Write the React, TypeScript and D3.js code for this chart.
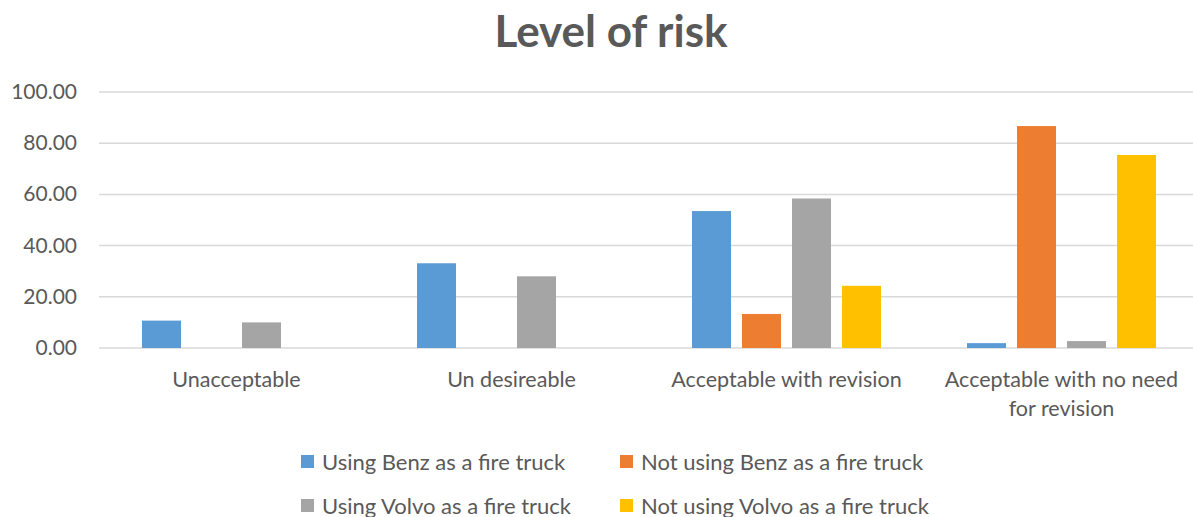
import React, { useEffect, useRef } from 'react'
import * as d3 from 'd3'

const categories = ['Unacceptable', 'Un desireable', 'Acceptable with revision', 'Acceptable with no need for revision']
const categoryLines = [['Unacceptable'], ['Un desireable'], ['Acceptable with revision'], ['Acceptable with no need', 'for revision']]
const seriesNames = ['Using Benz as a fire truck', 'Not using Benz as a fire truck', 'Using Volvo as a fire truck', 'Not using Volvo as a fire truck']
const seriesColors = ['#5b9bd5', '#ed7d31', '#a5a5a5', '#ffc000']
const benzUse = [10.7, 33.1, 53.5, 1.9]
const benzNot = [0, 0, 13.3, 86.7]
const volvoUse = [10.0, 28.0, 58.4, 2.7]
const volvoNot = [0, 0, 24.3, 75.4]
const yTicks = [0, 20, 40, 60, 80, 100]

const values = [benzUse, benzNot, volvoUse, volvoNot]
const font = 'Lato, "Open Sans", sans-serif'

export default function App() {
  const ref = useRef<HTMLDivElement | null>(null)

  useEffect(() => {
    document.body.style.margin = '0'
    const container = d3.select(ref.current!)
    container.selectAll('*').remove()
    const width = 1193
    const height = 517
    const svg = container.append('svg').attr('width', width).attr('height', height)
      .style('display', 'block').style('font-family', font)

    const x0 = d3.scaleBand<string>().domain(categories).range([99, 1199])
    const x1 = d3.scaleBand<string>().domain(seriesNames).range([0, x0.bandwidth()]).paddingInner(0.22).paddingOuter(0.86)
    const y = d3.scaleLinear().domain([0, 100]).range([348, 92])

    svg.append('text').attr('x', 611).attr('y', 47).attr('text-anchor', 'middle')
      .attr('font-size', 44).attr('font-weight', 700).attr('fill', '#595959').text('Level of risk')

    const grid = svg.append('g')
    grid.selectAll('line').data(yTicks).enter().append('line')
      .attr('x1', 99).attr('x2', width).attr('y1', d => y(d)).attr('y2', d => y(d))
      .attr('stroke', '#d9d9d9').attr('stroke-width', 1.5)
    grid.selectAll('text').data(yTicks).enter().append('text')
      .attr('x', 77).attr('y', d => y(d) + 7).attr('text-anchor', 'end')
      .attr('font-size', 21).attr('fill', '#595959').text(d => d.toFixed(2))

    const groups = svg.append('g').selectAll('g').data(categories).enter().append('g')
      .attr('transform', d => `translate(${x0(d)},0)`)
    groups.selectAll('rect').data((_, i) => seriesNames.map((s, si) => ({ s, si, v: values[si][i] }))).enter().append('rect')
      .attr('x', d => x1(d.s) ?? 0)
      .attr('y', d => y(d.v))
      .attr('width', x1.bandwidth())
      .attr('height', d => y(0) - y(d.v))
      .attr('fill', d => seriesColors[d.si])

    const labels = svg.append('g')
    categories.forEach((c, i) => {
      const cx = (x0(c) ?? 0) + x0.bandwidth() / 2
      const t = labels.append('text').attr('x', cx).attr('y', 387)
        .attr('text-anchor', 'middle').attr('font-size', 21.5).attr('fill', '#595959')
      categoryLines[i].forEach((line, li) => {
        t.append('tspan').attr('x', cx).attr('dy', li === 0 ? 0 : 29).text(line)
      })
    })

    const legendX = [301, 620]
    const legendY = [462, 506]
    const legend = svg.append('g')
    seriesNames.forEach((s, i) => {
      const lx = legendX[i % 2]
      const ly = legendY[Math.floor(i / 2)]
      legend.append('rect').attr('x', lx).attr('y', ly - 7).attr('width', 13).attr('height', 13).attr('fill', seriesColors[i])
      legend.append('text').attr('x', lx + 21).attr('y', ly + 7.5).attr('font-size', 22).attr('fill', '#595959').text(s)
    })
  }, [])

  return <div ref={ref} />
}
